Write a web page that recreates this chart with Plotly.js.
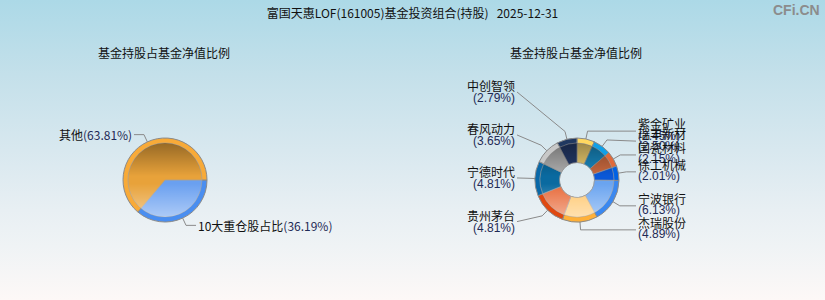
<!DOCTYPE html>
<html><head><meta charset="utf-8">
<script src="https://cdn.plot.ly/plotly-3.0.1.min.js"></script>
<style>
html,body{margin:0;padding:0;}
body{width:825px;height:300px;overflow:hidden;
background:linear-gradient(to bottom,#acd9e7 0%,#c4e0ea 25%,#d8e8ef 50%,#e8eff3 70%,#eff3f5 82%,#fdf8f7 100%);}
#chart{width:825px;height:300px;}
</style>
</head><body><div id="chart"></div>
<script>
// ---- data ----
const titleText = '富国天惠LOF(161005)基金投资组合(持股)\u00a0\u00a0\u00a02025-12-31';
const subTitleLeft = '基金持股占基金净值比例';
const subTitleRight = '基金持股占基金净值比例';
const pieLabels = ['10大重仓股占比', '其他'];
const pieValues = [36.19, 63.81];
const stockNames = ['紫金矿业','瑞丰新材','国瓷材料','徐工机械','宁波银行','杰瑞股份','贵州茅台','宁德时代','春风动力','中创智领'];
const stockValues = [2.45, 2.50, 2.15, 2.01, 6.13, 4.89, 4.81, 4.81, 3.65, 2.79];

// ---- styles ----
const pieRim  = ['#4a8ef0', '#f8aa38'];
const pieFill = ['#6aa0f0', '#e8a23a'];
const stockRim  = ['#ffd860','#10a0e8','#e06a3a','#0062e4','#3a88f0','#ffb038','#e04810','#0868a8','#c8c8c8','#203860'];
const stockFill = ['#f0d070','#1888c0','#c8683e','#0a58d8','#6aa4f0','#ffc870','#e86a3a','#0a6aa0','#b0b0b0','#243a6a'];

const W = 825, H = 300;
const CJK = '"Noto Sans CJK SC", "Liberation Sans", sans-serif';
const LAT = 'Arial, "Liberation Sans", "Noto Sans CJK SC", sans-serif';
const pctColor = '#1f2a55';
const lineColor = '#8a8a8a';

const L = {cx:165, cy:180, r:42, ri:37};
const R = {cx:577, cy:180, r:42, ri:37, hole:17.5};

function px2x(p){return p/W;}
function px2y(p){return 1 - p/H;}
function dom(c, r){return {x:[px2x(c.cx-r), px2x(c.cx+r)], y:[px2y(c.cy+r), px2y(c.cy-r)]};}

function midAngles(vals, rotation){
  const tot = vals.reduce((a,b)=>a+b,0);
  let acc = 0; const out=[];
  vals.forEach(v=>{ out.push(rotation + (acc + v/2)/tot*360); acc += v; });
  return out.map(a=>((a%360)+360)%360);
}
function pt(c, rad, deg){const t=deg*Math.PI/180; return [c.cx + rad*Math.sin(t), c.cy - rad*Math.cos(t)];}

const traces = [];
function addPie(c, labels, vals, rim, fill, rotation, holePx){
  const common = {type:'pie', labels:labels, values:vals, sort:false, direction:'clockwise',
    rotation:rotation, textinfo:'none', hoverinfo:'skip', showlegend:false};
  traces.push(Object.assign({}, common, {domain:dom(c,c.r), hole: holePx? holePx/c.r : 0,
    marker:{colors:rim, line:{color:lineColor, width:1}}}));
  traces.push(Object.assign({}, common, {domain:dom(c,c.ri), hole: holePx? holePx/c.ri : 0,
    marker:{colors:fill, line:{color:'rgba(160,160,160,0.8)', width:0.8}}}));
}
addPie(L, pieLabels, pieValues, pieRim, pieFill, 90, 0);
addPie(R, stockNames, stockValues, stockRim, stockFill, 0, R.hole);

const shapes = [], annotations = [], images = [];

function pathStr(points){
  return points.map((p,i)=>(i?'L':'M')+px2x(p[0]).toFixed(5)+','+px2y(p[1]).toFixed(5)).join(' ');
}

// left pie labels
const lMid = midAngles(pieValues, 90);
pieLabels.forEach((name,i)=>{
  const a = lMid[i];
  const e = pt(L, L.r, a), k = pt(L, L.r+8, a);
  const right = Math.sin(a*Math.PI/180) >= 0;
  const end = [k[0] + (right?10:-10), k[1]];
  shapes.push({type:'path', xref:'paper', yref:'paper', path:pathStr([e,k,end]), line:{color:lineColor,width:1}});
  annotations.push({xref:'paper', yref:'paper', x:px2x(end[0]), y:px2y(end[1]),
    xanchor: right?'left':'right', yanchor:'middle', showarrow:false,
    text: name + '<span style="color:'+pctColor+'">(' + pieValues[i].toFixed(2) + '%)</span>',
    font:{family:CJK, size:12, color:'#111'}});
});

// donut labels
const rMid = midAngles(stockValues, 0);
const items = stockNames.map((n,i)=>{
  const a = rMid[i];
  const right = a < 180;
  const k = pt(R, R.r+8, a);
  const y0 = right ? k[1] : pt(R, 58, a)[1];
  return {i, a, right, k, e: pt(R, R.r, a), y: y0};
});
const rightItems = items.filter(d=>d.right).sort((p,q)=>p.y-q.y);
for(let j=1;j<rightItems.length;j++){ rightItems[j].y = Math.max(rightItems[j].y, rightItems[j-1].y + 10); }
const leftItems = items.filter(d=>!d.right).sort((p,q)=>q.y-p.y);
for(let j=1;j<leftItems.length;j++){ leftItems[j].y = Math.min(leftItems[j].y, leftItems[j-1].y - 43); }
items.forEach(d=>{
  const ax = d.right ? R.cx + 59 : R.cx - 60;
  shapes.push({type:'path', xref:'paper', yref:'paper', path:pathStr([d.e, d.k, [ax, d.y]]), line:{color:lineColor,width:1}});
  const base = {xref:'paper', yref:'paper', x:px2x(d.right? ax+1 : ax-1), xanchor: d.right?'left':'right',
    yanchor:'middle', showarrow:false, borderpad:0};
  const dn = d.right ? -7.5 : -6, dp = d.right ? 4.5 : 6;
  annotations.push(Object.assign({}, base, {y:px2y(d.y+dn), text:stockNames[d.i], font:{family:CJK,size:12,color:'#111'}}));
  annotations.push(Object.assign({}, base, {y:px2y(d.y+dp), text:'('+stockValues[d.i].toFixed(2)+'%)', font:{family:LAT,size:12,color:pctColor}}));
});

// subtitles + watermark
annotations.push({xref:'paper', yref:'paper', x:px2x(164), y:px2y(52), showarrow:false, xanchor:'center', yanchor:'middle',
  text:subTitleLeft, font:{family:CJK, size:12, color:'#111'}});
annotations.push({xref:'paper', yref:'paper', x:px2x(576), y:px2y(52), showarrow:false, xanchor:'center', yanchor:'middle',
  text:subTitleRight, font:{family:CJK, size:12, color:'#111'}});
annotations.push({xref:'paper', yref:'paper', x:px2x(822), y:px2y(10), showarrow:false, xanchor:'right', yanchor:'middle',
  text:'<b>CFi.CN</b>', font:{family:LAT, size:14, color:'#8c8c8c'}});

// glossy gradient overlays
function gloss(c, holePx){
  const ri = holePx ? holePx/c.ri*50 : 0;
  let shape;
  if(ri>0){
    shape = '<path fill-rule="evenodd" fill="url(#g)" d="M50 0 A50 50 0 1 0 50 100 A50 50 0 1 0 50 0 Z M50 '+(50-ri)+' A'+ri+' '+ri+' 0 1 0 50 '+(50+ri)+' A'+ri+' '+ri+' 0 1 0 50 '+(50-ri)+' Z"/>';
  } else {
    shape = '<circle cx="50" cy="50" r="50" fill="url(#g)"/>';
  }
  const svg = '<svg xmlns="http://www.w3.org/2000/svg" width="100" height="100" viewBox="0 0 100 100"><defs><linearGradient id="g" x1="0" y1="0" x2="0" y2="1">'+
    '<stop offset="0" stop-color="#000" stop-opacity="0.35"/><stop offset="0.45" stop-color="#000" stop-opacity="0"/>'+
    '<stop offset="0.55" stop-color="#fff" stop-opacity="0"/><stop offset="1" stop-color="#fff" stop-opacity="0.45"/></linearGradient></defs>'+shape+'</svg>';
  images.push({source:'data:image/svg+xml;charset=utf-8,'+encodeURIComponent(svg), xref:'paper', yref:'paper',
    x:px2x(c.cx-c.ri), y:px2y(c.cy-c.ri), sizex:2*c.ri/W, sizey:2*c.ri/H, xanchor:'left', yanchor:'top', sizing:'stretch', layer:'above'});
}
gloss(L, 0);
gloss(R, R.hole);

const layout = {
  width:W, height:H, margin:{l:0,r:0,t:0,b:0},
  paper_bgcolor:'rgba(0,0,0,0)', plot_bgcolor:'rgba(0,0,0,0)',
  title:{text:titleText, x:0.5, xanchor:'center', y:1-14/H, yanchor:'middle', font:{family:CJK, size:12, color:'#111'}},
  shapes, annotations, images, showlegend:false
};
Plotly.newPlot('chart', traces, layout, {displayModeBar:false, staticPlot:true});
</script>
</body></html>
